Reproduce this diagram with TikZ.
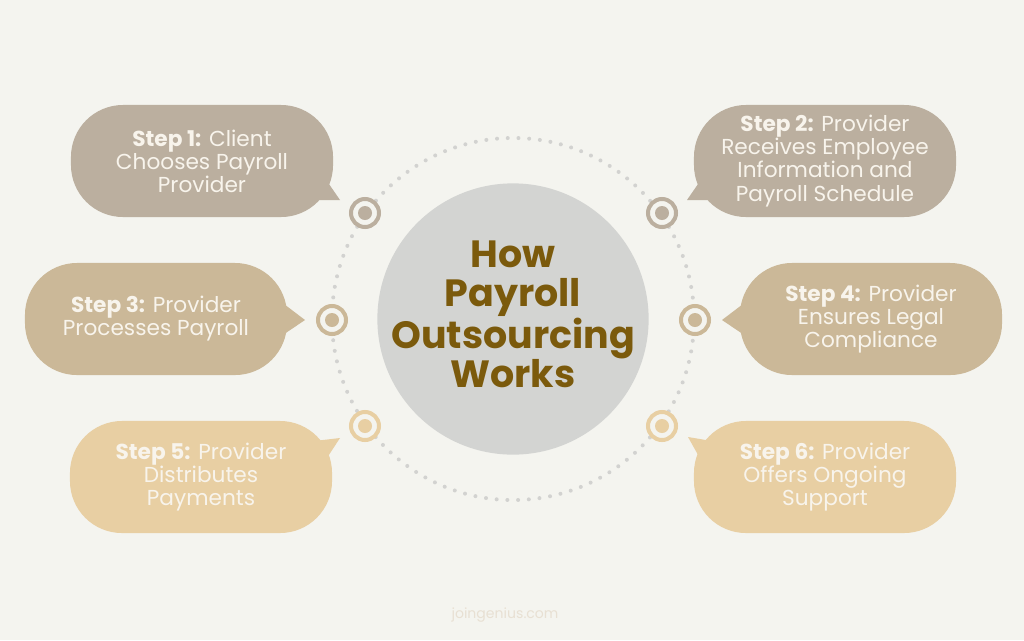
\documentclass[tikz,border=0pt]{standalone}
\usepackage{fontspec}
\setmainfont{Poppins}
\usetikzlibrary{positioning,calc}

\definecolor{bgcol}{HTML}{F4F4EF}
\definecolor{toneA}{HTML}{BBAF9F}
\definecolor{toneB}{HTML}{CBB898}
\definecolor{toneC}{HTML}{E8CFA3}
\definecolor{hubcol}{HTML}{D3D4D2}
\definecolor{dotcol}{HTML}{D2D2D0}
\definecolor{titlecol}{HTML}{7B5A0C}
\definecolor{textcol}{HTML}{F8F4EC}
\definecolor{sitecol}{HTML}{E8E0D3}

\begin{document}
\begin{tikzpicture}[
  x = 0.025cm, y = -0.025cm,
  every node/.style = {align=center},
  bubble/.style  = {rounded corners=1.3cm, inner sep=0pt,
                    minimum width=6.55cm, minimum height=2.8cm,
                    text=textcol, font=\fontsize{15.4}{16.4}\selectfont},
  bubA/.style    = {bubble, fill=toneA},
  bubB/.style    = {bubble, fill=toneB},
  bubC/.style    = {bubble, fill=toneC},
  target/.style  = {circle, draw=#1, fill=bgcol, line width=2.85pt,
                    minimum size=0.7cm, inner sep=0pt,
                    path picture={\fill[#1] (path picture bounding box.center)
                                  circle[radius=0.175cm];}},
  dotring/.style = {dotcol, line width=2.85pt, line cap=round,
                    dash pattern=on 0pt off 7.63pt},
]

% Canvas
\fill[bgcol] (0,0) rectangle (1024,640);
\useasboundingbox (0,0) rectangle (1024,640);

% Hub
\coordinate (ctr) at (513,319);
\draw[dotring] (ctr) circle[radius=4.525cm];
\fill[hubcol] (ctr) circle[radius=3.39cm];
\node[text=titlecol, font=\fontsize{27}{27.8}\selectfont\bfseries] (title) at (513,314)
  {How\\Payroll\\Outsourcing\\Works};

% Markers on the ring
\node[target=toneA] (m1) at (365,213) {};
\node[target=toneA] (m2) at (662,213) {};
\node[target=toneB] (m3) at (332,320) {};
\node[target=toneB] (m4) at (695,320) {};
\node[target=toneC] (m5) at (365,426) {};
\node[target=toneC] (m6) at (662,426) {};

% Tail tips
\coordinate (t1) at (340,200);
\coordinate (t2) at (687,200);
\coordinate (t3) at (305,320);
\coordinate (t4) at (722,320);
\coordinate (t5) at (340,438);
\coordinate (t6) at (688,437);

% Bubbles
\node[bubA] (s1) at (202,161) {\textbf{Step 1:} Client\\Chooses Payroll\\Provider};
\node[bubA] (s2) at (825,161) {\textbf{Step 2:} Provider\\Receives Employee\\Information and\\Payroll Schedule};
\node[bubB] (s3) at (156,319) {\textbf{Step 3:} Provider\\Processes Payroll};
\node[bubB] (s4) at (871,319) {\textbf{Step 4:} Provider\\Ensures Legal\\Compliance};
\node[bubC] (s5) at (201,477) {\textbf{Step 5:} Provider\\Distributes\\Payments};
\node[bubC] (s6) at (825,477) {\textbf{Step 6:} Provider\\Offers Ongoing\\Support};

% Tails
\fill[toneA] ($(s1.east)+(-14,9)$) -- (t1) -- ($(s1.east)+(-27,39)$) -- cycle;
\fill[toneA] ($(s2.west)+(14,9)$) -- (t2) -- ($(s2.west)+(27,39)$) -- cycle;
\fill[toneB] ($(s3.east)+(-6,-17)$) -- (t3) -- ($(s3.east)+(-6,17)$) -- cycle;
\fill[toneB] ($(s4.west)+(6,-17)$) -- (t4) -- ($(s4.west)+(6,17)$) -- cycle;
\fill[toneC] ($(s5.east)+(-18,-36)$) -- (t5) -- ($(s5.east)+(-10,-12)$) -- cycle;
\fill[toneC] ($(s6.west)+(18,-36)$) -- (t6) -- ($(s6.west)+(10,-12)$) -- cycle;

% Footer
\node[text=sitecol, font=\fontsize{10}{12}\selectfont] (site) at (505,615) {joingenius.com};

\end{tikzpicture}
\end{document}
